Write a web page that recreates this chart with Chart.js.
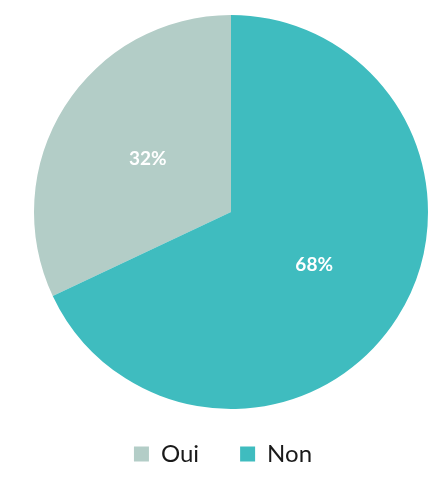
<!DOCTYPE html>
<html>
<head>
<meta charset="utf-8">
<script src="https://cdn.jsdelivr.net/npm/chart.js@4"></script>
<style>
  html, body { margin: 0; padding: 0; background: #fff; }
  #wrap { width: 448px; height: 498px; }
</style>
</head>
<body>
<div id="wrap"><canvas id="myChart" width="448" height="498"></canvas></div>
<script>
const labels = ["Oui", "Non"];
const values = [32, 68];
const colors = ["#b3cdc7", "#3fbcbf"];

// percentages written in the middle of each slice
const sliceLabels = {
    id: "sliceLabels",
    afterDatasetsDraw(chart) {
        const ctx = chart.ctx;
        const meta = chart.getDatasetMeta(0);
        ctx.save();
        ctx.fillStyle = "#ffffff";
        ctx.font = "bold 19px Lato";
        ctx.textAlign = "center";
        ctx.textBaseline = "middle";
        meta.data.forEach((arc, i) => {
            const p = arc.tooltipPosition();
            ctx.fillText(values[i] + "%", p.x, p.y);
        });
        ctx.restore();
    }
};

// nudge the legend a bit up and to the left
const legendShift = {
    id: "legendShift",
    afterLayout(chart) {
        const lg = chart.legend;
        if (!lg) return;
        lg.left -= 8; lg.right -= 8;
        lg.top -= 8; lg.bottom -= 8;
    }
};

const ctx = document.getElementById("myChart").getContext("2d");
const chart = new Chart(ctx, {
    type: "pie",
    data: {
        labels: labels,
        datasets: [{
            data: values,
            backgroundColor: colors,
            borderWidth: 0
        }]
    },
    options: {
        responsive: false,
        animation: false,
        rotation: -115.2,
        layout: { padding: { left: 34, right: 20, top: 15, bottom: 14 } },
        plugins: {
            tooltip: { enabled: false },
            legend: {
                position: "bottom",
                labels: {
                    boxWidth: 15,
                    boxHeight: 15,
                    padding: 41,
                    color: "#1a1a1a",
                    font: { family: "Lato", size: 24 }
                }
            }
        }
    },
    plugins: [sliceLabels, legendShift]
});
</script>
</body>
</html>
